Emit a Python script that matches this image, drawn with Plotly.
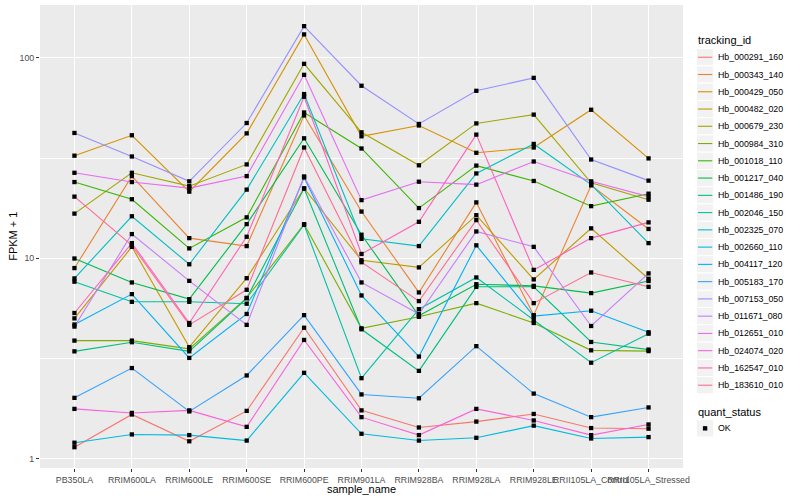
import plotly.graph_objects as go

# ---------------- data (FPKM + 1) ----------------
samples = ["PB350LA", "RRIM600LA", "RRIM600LE", "RRIM600SE", "RRIM600PE",
           "RRIM901LA", "RRIM928BA", "RRIM928LA", "RRIM928LE",
           "RRII105LA_Control", "RRII105LA_Stressed"]

tracking_ids = ["Hb_000291_160", "Hb_000343_140", "Hb_000429_050", "Hb_000482_020",
                "Hb_000679_230", "Hb_000984_310", "Hb_001018_110", "Hb_001217_040",
                "Hb_001486_190", "Hb_002046_150", "Hb_002325_070", "Hb_002660_110",
                "Hb_004117_120", "Hb_005183_170", "Hb_007153_050", "Hb_011671_080",
                "Hb_012651_010", "Hb_024074_020", "Hb_162547_010", "Hb_183610_010"]

colors = ["#F8766D", "#EA8331", "#D89000", "#C09B00", "#A3A500", "#7CAE00",
          "#39B600", "#00BB4E", "#00BF7D", "#00C1A3", "#00BFC4", "#00BAE0",
          "#00B0F6", "#35A2FF", "#9590FF", "#C77CFF", "#E76BF3", "#FA62DB",
          "#FF62BC", "#FF6C91"]

Hb_000291_160 = [1.14, 1.66, 1.22, 1.73, 4.50, 1.74, 1.43, 1.53, 1.67, 1.42, 1.41]
Hb_000343_140 = [8.93, 25.7, 12.6, 11.5, 51.6, 17.1, 6.75, 19.0, 5.20, 23.1, 14.0]
Hb_000429_050 = [32.5, 41.1, 21.5, 42.0, 131.0, 40.6, 46.0, 33.6, 35.7, 55.1, 31.5]
Hb_000482_020 = [5.01, 11.4, 3.60, 7.95, 22.3, 9.77, 9.00, 16.4, 7.84, 14.1, 7.90]
Hb_000679_230 = [16.7, 26.7, 22.9, 29.4, 93.4, 42.5, 29.1, 47.1, 52.1, 23.8, 19.6]
Hb_000984_310 = [3.88, 3.88, 3.53, 6.34, 14.8, 4.47, 5.10, 5.97, 4.75, 3.47, 3.44]
Hb_001018_110 = [24.0, 19.7, 11.2, 16.0, 53.4, 35.3, 17.8, 29.0, 24.3, 18.2, 21.0]
Hb_001217_040 = [9.97, 7.57, 6.25, 14.8, 39.7, 13.1, 5.16, 7.42, 7.28, 6.70, 7.70]
Hb_001486_190 = [3.43, 3.81, 3.43, 6.31, 22.3, 4.42, 2.74, 7.20, 7.20, 3.82, 3.50]
Hb_002046_150 = [7.64, 6.06, 6.06, 5.93, 14.7, 2.52, 5.57, 8.02, 4.92, 3.01, 4.20]
Hb_002325_070 = [7.93, 16.2, 9.33, 22.0, 66.0, 12.5, 11.5, 26.5, 37.2, 23.3, 11.9]
Hb_002660_110 = [1.20, 1.32, 1.31, 1.23, 2.68, 1.33, 1.23, 1.27, 1.46, 1.26, 1.28]
Hb_004117_120 = [4.67, 6.62, 3.18, 5.27, 25.3, 6.52, 3.23, 11.6, 5.14, 5.47, 4.27]
Hb_005183_170 = [2.01, 2.83, 1.72, 2.60, 5.20, 2.09, 2.00, 3.64, 2.11, 1.61, 1.80]
Hb_007153_050 = [42.2, 32.2, 24.2, 47.3, 144.0, 72.6, 46.8, 68.5, 79.5, 31.1, 24.4]
Hb_011671_080 = [4.56, 13.2, 7.71, 4.65, 25.6, 7.57, 5.27, 13.6, 11.4, 4.59, 8.40]
Hb_012651_010 = [26.7, 24.0, 22.4, 25.7, 82.3, 19.5, 24.1, 23.3, 30.4, 24.2, 20.3]
Hb_024074_020 = [1.77, 1.69, 1.74, 1.44, 3.91, 1.61, 1.31, 1.77, 1.55, 1.31, 1.48]
Hb_162547_010 = [5.33, 11.9, 4.75, 12.8, 64.0, 10.5, 15.2, 41.4, 8.75, 12.6, 15.1]
Hb_183610_010 = [20.3, 11.6, 4.65, 6.96, 35.7, 9.55, 6.11, 15.5, 5.97, 8.49, 7.20]

series = [Hb_000291_160, Hb_000343_140, Hb_000429_050, Hb_000482_020, Hb_000679_230,
          Hb_000984_310, Hb_001018_110, Hb_001217_040, Hb_001486_190, Hb_002046_150,
          Hb_002325_070, Hb_002660_110, Hb_004117_120, Hb_005183_170, Hb_007153_050,
          Hb_011671_080, Hb_012651_010, Hb_024074_020, Hb_162547_010, Hb_183610_010]

quant_status = ["OK"]
y_ticks = [1, 10, 100]
y_tick_labels = ["1", "10", "100"]

# ---------------- layout constants ----------------
W, H = 800, 500
L, R, T, B = 40, 116.5, 5, 31.5
PW, PH = W - L - R, H - T - B
FONT = "Liberation Sans, Arial, Helvetica, sans-serif"


def px_x(px):
    return (px - L) / PW


def px_y(py):
    return (H - B - py) / PH


fig = go.Figure()

for name, col, vals in zip(tracking_ids, colors, series):
    fig.add_trace(go.Scatter(x=samples, y=vals, mode="lines", name=name,
                             line=dict(color=col, width=1.1), showlegend=False,
                             hoverinfo="x+y+name"))

# points on top of all lines
all_x, all_y = [], []
for vals in series:
    all_x += samples
    all_y += vals
fig.add_trace(go.Scatter(x=all_x, y=all_y, mode="markers", name=quant_status[0],
                         marker=dict(symbol="square", size=4.3, color="black"),
                         showlegend=False))

# ---------------- manual ggplot-style legend ----------------
shapes, annotations = [], []
key_x0, key_x1 = 697, 714.3
key_h = 17.28
first_c = 57.3

annotations.append(dict(x=px_x(696.5), y=px_y(40.5), xref="paper", yref="paper",
                        text="tracking_id", showarrow=False, xanchor="left",
                        yanchor="middle", font=dict(size=11, color="black", family=FONT)))
for i, (name, col) in enumerate(zip(tracking_ids, colors)):
    c = first_c + i * key_h
    shapes.append(dict(type="rect", xref="paper", yref="paper",
                       x0=px_x(key_x0), x1=px_x(key_x1),
                       y0=px_y(c - key_h / 2), y1=px_y(c + key_h / 2),
                       fillcolor="#F2F2F2", line=dict(color="white", width=1), layer="above"))
    shapes.append(dict(type="line", xref="paper", yref="paper",
                       x0=px_x(key_x0 + 1.5), x1=px_x(key_x1 - 1.5),
                       y0=px_y(c), y1=px_y(c), line=dict(color=col, width=1.1), layer="above"))
    annotations.append(dict(x=px_x(716.5), y=px_y(c), xref="paper", yref="paper",
                            text=name, showarrow=False, xanchor="left", yanchor="middle",
                            font=dict(size=8.8, color="black", family=FONT)))

annotations.append(dict(x=px_x(696.5), y=px_y(412.7), xref="paper", yref="paper",
                        text="quant_status", showarrow=False, xanchor="left",
                        yanchor="middle", font=dict(size=11, color="black", family=FONT)))
c = 428.8
shapes.append(dict(type="rect", xref="paper", yref="paper",
                   x0=px_x(key_x0), x1=px_x(key_x1),
                   y0=px_y(c - key_h / 2), y1=px_y(c + key_h / 2),
                   fillcolor="#F2F2F2", line=dict(color="white", width=1), layer="above"))
shapes.append(dict(type="rect", xref="paper", yref="paper",
                   x0=px_x(703.4), x1=px_x(707.8), y0=px_y(c - 2.2), y1=px_y(c + 2.2),
                   fillcolor="black", line=dict(width=0), layer="above"))
annotations.append(dict(x=px_x(716.5), y=px_y(c), xref="paper", yref="paper",
                        text=quant_status[0], showarrow=False, xanchor="left", yanchor="middle",
                        font=dict(size=8.8, color="black", family=FONT)))

# axis titles
annotations.append(dict(x=px_x(361.7), y=px_y(489.5), xref="paper", yref="paper",
                        text="sample_name", showarrow=False, xanchor="center", yanchor="middle",
                        font=dict(size=11, color="black", family=FONT)))
annotations.append(dict(x=px_x(13), y=px_y(237), xref="paper", yref="paper",
                        text="FPKM + 1", showarrow=False, textangle=-90,
                        xanchor="center", yanchor="middle",
                        font=dict(size=11, color="black", family=FONT)))

fig.update_layout(
    width=W, height=H,
    margin=dict(l=L, r=R, t=T, b=B, pad=0),
    paper_bgcolor="white", plot_bgcolor="#EBEBEB",
    font=dict(family=FONT, size=9, color="#4D4D4D"),
    showlegend=False,
    shapes=shapes, annotations=annotations,
    xaxis=dict(type="category", categoryorder="array", categoryarray=samples,
               range=[-0.6, len(samples) - 0.4], showgrid=True, gridcolor="white",
               gridwidth=1.07, zeroline=False, showline=False, ticks="outside",
               ticklen=3, tickwidth=1, tickcolor="#333333", tickangle=0,
               tickfont=dict(size=8.8, color="#4D4D4D", family=FONT), automargin=False),
    yaxis=dict(type="log", range=[-0.047, 2.264], tickmode="array", tickvals=y_ticks,
               ticktext=y_tick_labels, showgrid=True, gridcolor="white", gridwidth=1.07,
               zeroline=False, showline=False, ticks="outside", ticklen=3, tickwidth=1,
               tickcolor="#333333", tickfont=dict(size=8.8, color="#4D4D4D", family=FONT),
               minor=dict(tickmode="array", tickvals=[10 ** 0.5, 10 ** 1.5], showgrid=True,
                          gridcolor="white", gridwidth=0.53, ticks=""),
               automargin=False),
)

fig.write_html("out.html", config={"displayModeBar": False},
               post_script="document.body.style.margin='0';document.body.style.padding='0';")
